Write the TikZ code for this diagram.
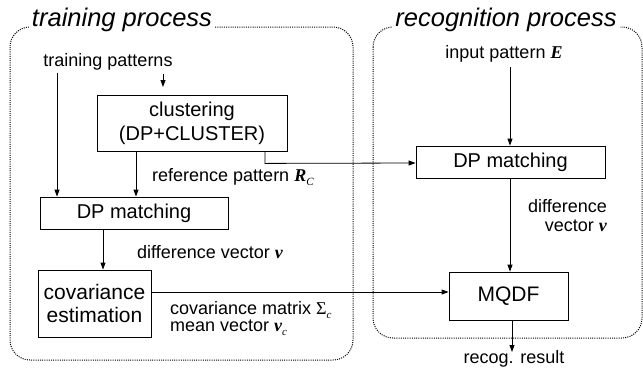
\documentclass[tikz,border=0pt]{standalone}
\usepackage{fontspec}
\setmainfont{Liberation Sans}
\newfontfamily\serifm{Liberation Serif}
\usetikzlibrary{arrows.meta}
\newcommand\bvec[1]{{\serifm\bfseries\itshape #1}}
\newcommand\subsc[1]{\raisebox{-0.4ex}{\fontsize{11}{11}\selectfont\serifm\itshape #1}}
\begin{document}
\begin{tikzpicture}[x=1pt,y=-1pt,
  box/.style={draw, line width=0.8pt, inner sep=0pt, align=center, font=\fontsize{20}{24}\selectfont},
  lbl/.style={inner sep=0pt, font=\fontsize{18}{19}\selectfont},
  conn/.style={line width=0.8pt},
  arr/.style={conn, -{Triangle[length=7pt,width=5pt]}},
  frame/.style={draw, line width=1pt, dash pattern=on 1pt off 1.2pt, rounded corners=20pt},
  ttl/.style={fill=white, inner xsep=3pt, inner ysep=0pt, font=\fontsize{25.5}{28}\selectfont\itshape}]
\useasboundingbox (0,0) rectangle (643,368);

% frames
\draw[frame] (10,27) rectangle (353,360);
\draw[frame] (373,27) rectangle (642,338);
\node[ttl] (t1) at (122,20) {training process};
\node[ttl] (t2) at (506,20) {recognition process};

% boxes
\node[box, minimum width=190pt, minimum height=56pt] (clust) at (192,123) {clustering\\(DP+CLUSTER)};
\node[box, minimum width=188pt, minimum height=32pt] (dp1) at (134,213) {DP matching};
\node[box, minimum width=113pt, minimum height=67pt, font=\fontsize{21}{23}\selectfont] (cov) at (94.5,303.5) {covariance\\estimation};
\node[box, minimum width=189pt, minimum height=32pt] (dp2) at (510.5,162) {DP matching};
\node[box, minimum width=119pt, minimum height=48pt, font=\fontsize{21}{23}\selectfont] (mqdf) at (508.5,296) {MQDF};

% labels
\node[lbl] (tp) at (108,62) {training patterns};
\node[lbl] (ip) at (504,54) {input pattern \bvec{E}};
\node[lbl, anchor=west] (rp) at (152,177) {reference pattern \bvec{R}\subsc{C}};
\node[lbl, anchor=west] (dv1) at (137,252) {difference vector \bvec{v}};
\node[lbl, anchor=west] (cm) at (170,310) {covariance matrix {\serifm Σ}\subsc{c}};
\node[lbl, anchor=west] (mv) at (170,328) {mean vector \bvec{v}\subsc{c}};
\node[lbl, anchor=east, align=right] (dv2) at (607,216) {difference\\vector \bvec{v}};
\node[lbl] (rr) at (514,359) {recog. result};

% coordinates
\coordinate (a1) at (57,73);
\coordinate (a2) at (163,74);
\coordinate (a3) at (163,87);
\coordinate (b1) at (136,0);
\coordinate (c1) at (265,0);
\coordinate (d1) at (103,0);
\coordinate (h) at (0,292);
\coordinate (e1) at (510,67);
\coordinate (f1) at (512,0);
\coordinate (f2) at (512,352);

% connectors
\draw[arr] (a1) -- (a1 |- dp1.north);
\draw[arr] (a2) -- (a3);
\draw[arr] (clust.south -| b1) -- (dp1.north -| b1);
\draw[arr] (clust.south -| c1) -- ++(0,12) -- (dp2.west |- 0,163);
\draw[arr] (dp1.south -| d1) -- (cov.north -| d1);
\draw[arr] (cov.east |- h) -- (mqdf.west |- h);
\draw[arr] (e1) -- (dp2.north -| e1);
\draw[arr] (dp2.south -| e1) -- (mqdf.north -| e1);
\draw[arr] (mqdf.south -| f1) -- (f2);
\end{tikzpicture}
\end{document}
